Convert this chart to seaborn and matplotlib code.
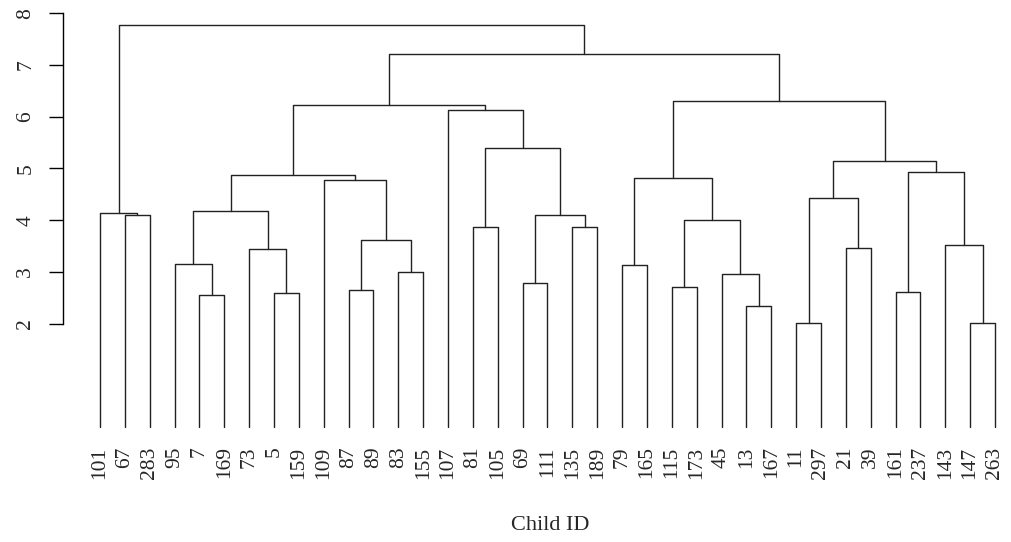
import pandas as pd
import matplotlib.pyplot as plt
import seaborn as sns

# leaf labels, in the order they appear along the bottom
labels = ["101", "67", "283", "95", "7", "169", "73", "5", "159", "109",
          "87", "89", "83", "155", "107", "81", "105", "69", "111", "135",
          "189", "79", "165", "115", "173", "45", "13", "167", "11", "297",
          "21", "39", "161", "237", "143", "147", "263"]

# merges R-style: negative = leaf position (1-based), positive = earlier merge
merge_a = [-29, -36, -27, -5, -8, -33, -11, -24, -18, -26, -13, -22, -4, -7,
           -31, -35, 7, -16, -20, 8, -2, 9, -1, 13, 1, -10, 12, 24, 6, 25,
           18, -15, 28, 27, 33, 23]
merge_b = [-30, -37, -28, -6, -9, -34, -12, -25, -19, 3, -14, -23, 4, 5,
           -32, 2, 11, -17, -21, 10, -3, 19, 21, 14, 15, 17, 20, 26, 16, 29,
           22, 31, 32, 30, 34, 35]
heights = [2.01, 2.02, 2.34, 2.55, 2.60, 2.62, 2.65, 2.71, 2.79, 2.95, 3.00,
           3.13, 3.16, 3.45, 3.47, 3.51, 3.62, 3.86, 3.87, 4.01, 4.09, 4.10,
           4.13, 4.18, 4.43, 4.78, 4.82, 4.88, 4.94, 5.14, 5.40, 6.13, 6.22,
           6.31, 7.21, 7.77]

# work out where each node sits
node_x = []
def pos(k):
    if k < 0:
        return -k, 0.0
    return node_x[k - 1], heights[k - 1]

rows = []
for i, (a, b) in enumerate(zip(merge_a, merge_b)):
    xa, ha = pos(a)
    xb, hb = pos(b)
    h = heights[i]
    node_x.append((xa + xb) / 2)
    for j, (x, y) in enumerate([(xa, ha), (xa, h), (xb, h), (xb, hb)]):
        rows.append({"seg": i, "order": j, "x": x, "y": y})
df = pd.DataFrame(rows)

sns.set_style("ticks")
plt.rcParams["font.family"] = ["Liberation Serif", "DejaVu Serif"]

fig = plt.figure(figsize=(10.11, 5.42), dpi=100)
ax = fig.add_axes([63 / 1011, (542 - 427) / 542, (1005 - 63) / 1011, (427 - 13.3) / 542])

sns.lineplot(data=df, x="x", y="y", units="seg", estimator=None, sort=False,
             color="#222222", linewidth=1.0, clip_on=False, ax=ax, legend=False)

ax.set_xlim(1 - 37 / 24.86, 1 + 905 / 24.86)
ax.set_ylim(0, 8)
ax.set_xticks(range(1, len(labels) + 1))
ax.set_xticklabels(labels, rotation=90, fontsize=15.5)
ax.tick_params(axis="x", length=0, pad=14)
ax.set_yticks(range(2, 9))
ax.set_yticklabels([str(v) for v in range(2, 9)], fontsize=15.5)
ax.tick_params(axis="y", labelrotation=90, length=10, width=1, pad=10, color="black")
for lab in ax.get_yticklabels():
    lab.set_va("center")
ax.set_xlabel("")
ax.set_ylabel("")
sns.despine(ax=ax, bottom=True)
ax.spines["left"].set_bounds(2, 8)
ax.spines["left"].set_color("black")
ax.spines["left"].set_linewidth(1.0)
ax.set_facecolor("white")

fig.text(550 / 1011, 1 - 526 / 542, "Child ID", ha="center", va="center", fontsize=16)

fig.savefig("out.png", dpi=100, facecolor="white")
